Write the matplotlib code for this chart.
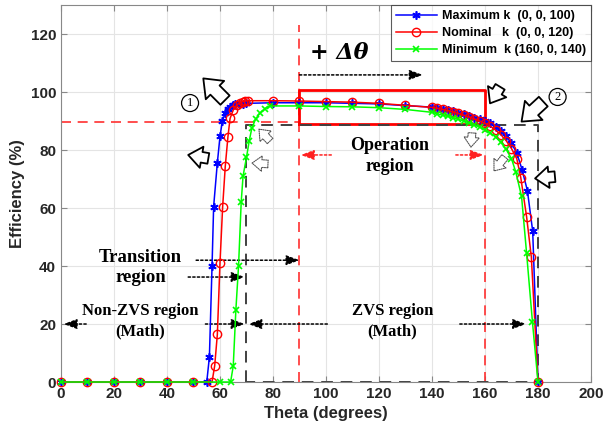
import numpy as np
import matplotlib.pyplot as plt

# data
theta_max = [0, 10, 20, 30, 40, 50, 55, 56, 57, 57.6, 59, 60, 60.9, 61.9, 62.9, 63.8, 64.8, 65.8, 67, 68.5, 70,
             80, 90, 100, 110, 120, 130, 140, 142, 144, 146, 148, 150, 152, 154, 156, 158, 160, 162, 164, 166,
             168, 170, 172, 174, 176, 178, 180]
eff_max = [0, 0, 0, 0, 0, 0, 0, 8.6, 40, 60.5, 75.6, 84.7, 90, 92.6, 94.3, 95.0, 95.4, 95.7, 95.9, 96.0, 96.1,
           96.3, 96.3, 96.3, 96.1, 95.9, 95.3, 94.8, 94.5, 94.1, 93.7, 93.3, 92.8, 92.3, 91.8, 91.2, 90.6, 89.9,
           89.3, 88.1, 86.6, 84.7, 82.3, 79.0, 73.2, 66.0, 52.0, 0]

theta_nom = [0, 10, 20, 30, 40, 50, 57, 58, 59, 60, 61, 62, 63, 63.8, 65, 66.3, 67.5, 68.5, 69.5, 70.5,
             80, 90, 100, 110, 120, 130, 140, 142, 144, 146, 148, 150, 152, 154, 156, 158, 160, 162, 164, 166,
             168, 170, 172, 173.5, 175.7, 177.5, 180]
eff_nom = [0, 0, 0, 0, 0, 0, 0, 5.6, 16.4, 41.1, 60.4, 74.5, 84.6, 90.9, 93.8, 95.5, 96.3, 96.7, 96.9, 97.0,
           97.0, 96.9, 96.7, 96.5, 96.1, 95.4, 94.7, 94.4, 94.0, 93.6, 93.1, 92.6, 92.0, 91.4, 90.7, 90.0, 89.2,
           88.2, 86.9, 85.3, 83.2, 80.5, 77.0, 70.5, 57.0, 43.0, 0]

theta_min = [0, 10, 20, 30, 40, 50, 60, 64, 65, 66, 67, 68, 68.7, 70, 71, 72, 73.5, 75, 77, 79,
             90, 100, 110, 120, 130, 140, 142, 144, 146, 148, 150, 152, 154, 156, 158, 160, 162, 164, 166,
             168, 170, 171.6, 173.8, 175.7, 177.9, 180]
eff_min = [0, 0, 0, 0, 0, 0, 0, 0, 5.5, 25.0, 40.0, 62.0, 71.0, 77.5, 83.0, 87.5, 90.8, 92.6, 94.3, 95.2,
           95.2, 95.0, 94.9, 94.6, 94.0, 93.0, 92.5, 92.0, 91.6, 91.1, 90.6, 90.0, 89.4, 88.7, 87.9, 87.0,
           85.9, 84.5, 82.6, 80.2, 77.0, 72.5, 64.0, 44.4, 20.8, 0]

labels = ['Maximum k  (0, 0, 100)', 'Nominal   k  (0, 0, 120)', 'Minimum  k (160, 0, 140)']

serif = 'Liberation Serif'
plt.rcParams['font.family'] = ['Liberation Sans', 'DejaVu Sans']

fig = plt.figure(figsize=(6.13, 4.30), dpi=100)
ax = fig.add_axes([0.0995, 0.1116, 0.8646, 0.8767])

ax.plot(theta_max, eff_max, color='#0000ff', lw=1.1, marker=(6, 2, 0), ms=6, mew=1.2, label=labels[0],
        clip_on=False, zorder=4)
ax.plot(theta_nom, eff_nom, color='#ff0000', lw=1.1, marker='o', ms=6, mfc='none', mew=1.0, label=labels[1],
        clip_on=False, zorder=4)
ax.plot(theta_min, eff_min, color='#00ff00', lw=1.1, marker='x', ms=4.5, mew=1.2, label=labels[2],
        clip_on=False, zorder=4)

# red operation box and dashed guides
ax.plot([0, 90], [89.5, 89.5], color='#ff3030', ls=(0, (6, 4)), lw=1.2)
ax.plot([90, 90], [0, 123], color='#ff3030', ls=(0, (6, 4)), lw=1.2)
ax.plot([160, 160], [0, 89], color='#ff3030', ls=(0, (6, 4)), lw=1.2)
ax.plot([90, 160, 160, 90, 90], [89, 89, 100.6, 100.6, 89], color='#ff0000', lw=2)

# black dashed ZVS box
ax.plot([70, 70, 180, 180, 70], [0, 88.8, 88.8, 0, 0], color='#404040', ls=(0, (6, 4)), lw=1.4)

# texts
ax.text(105, 113.5, '+ Δθ', family='DejaVu Serif', fontsize=16, fontweight='bold', fontstyle='italic',
        ha='center', va='center')
ax.text(124, 78, 'Operation\nregion', family=serif, fontsize=13, fontweight='bold',
        ha='center', va='center', linespacing=1.3)
ax.text(30, 39.5, 'Transition\nregion', family=serif, fontsize=13.5, fontweight='bold',
        ha='center', va='center', linespacing=1.3)
ax.text(30, 21, 'Non-ZVS region\n(Math)', family=serif, fontsize=12, fontweight='bold',
        ha='center', va='center', linespacing=1.3)
ax.text(125, 21, 'ZVS region\n(Math)', family=serif, fontsize=12, fontweight='bold',
        ha='center', va='center', linespacing=1.3)
ax.text(48.7, 96.2, '1', family=serif, fontsize=9, ha='center', va='center',
        bbox=dict(boxstyle='circle,pad=0.2', fc='none', ec='k', lw=0.9))
ax.text(187.4, 98.3, '2', family=serif, fontsize=9, ha='center', va='center',
        bbox=dict(boxstyle='circle,pad=0.2', fc='none', ec='k', lw=0.9))

# dotted pointers
def dotted(x0, y0, x1, y1, color='k'):
    ax.annotate('', xy=(x1, y1), xytext=(x0, y0),
                arrowprops=dict(arrowstyle='-|>,head_length=0.8,head_width=0.3', color=color,
                                lw=1.1, ls=(0, (1.5, 1.5)), shrinkA=0, shrinkB=0))

dotted(90, 105.9, 136.5, 105.9)
dotted(102, 78.3, 90.5, 78.3, '#ff2020')
dotted(149, 78.3, 159.5, 78.3, '#ff2020')
dotted(51, 42, 90, 42)
dotted(48, 36.2, 69.3, 36.2)
dotted(9.5, 20, 1, 20)
dotted(54.5, 20, 69.3, 20)
dotted(100.5, 20, 70.7, 20)
dotted(150.5, 20, 175.5, 20)

# hollow arrows
def hollow(x0, y0, x1, y1, scale=14, dotted_edge=False):
    style = 'simple,head_length=0.7,head_width=1.1,tail_width=0.55'
    props = dict(arrowstyle=style, fc='white', ec='k', lw=1.3, mutation_scale=scale,
                 shrinkA=0, shrinkB=0)
    if dotted_edge:
        props.update(ec='#555555', lw=0.8, ls=(0, (1, 1)))
    ax.annotate('', xy=(x1, y1), xytext=(x0, y0), arrowprops=props)

hollow(61.9, 97.2, 53.7, 104.7, 17)
hollow(55.6, 77.1, 48.0, 78.3, 14)
hollow(165.7, 101.8, 161.9, 96.1, 14)
hollow(182.0, 96.7, 173.8, 89.8, 17)
hollow(186.4, 70.8, 178.9, 70.2, 14)
hollow(78.9, 83.1, 74.7, 87.2, 10, True)
hollow(78.1, 75.2, 72.1, 75.5, 10, True)
hollow(155.1, 85.9, 154.7, 81.0, 10, True)
hollow(167.5, 77.6, 163.4, 72.8, 10, True)

ax.set_xlim(0, 200)
ax.set_ylim(0, 130)
ax.set_xticks(np.arange(0, 201, 20))
ax.set_yticks(np.arange(0, 121, 20))
ax.grid(True, color='#e4e4e4', lw=0.8)
ax.set_axisbelow(True)
for s in ax.spines.values():
    s.set_color('#888888')
ax.tick_params(direction='in', length=4, color='#888888', labelsize=11, labelcolor='#262626',
               top=True, right=True)
for lab in ax.get_xticklabels() + ax.get_yticklabels():
    lab.set_fontweight('bold')
ax.set_xlabel('Theta (degrees)', fontsize=12, fontweight='bold', color='#262626')
ax.set_ylabel('Efficiency (%)', fontsize=12, fontweight='bold', color='#262626')

leg = ax.legend(loc='upper right', borderaxespad=0, fancybox=False, edgecolor='#333333',
                handlelength=3.3, prop=dict(weight='bold', size=9), labelspacing=0.4,
                borderpad=0.4, handletextpad=0.4)
leg.get_frame().set_linewidth(0.8)

fig.savefig('out.png', dpi=100)
